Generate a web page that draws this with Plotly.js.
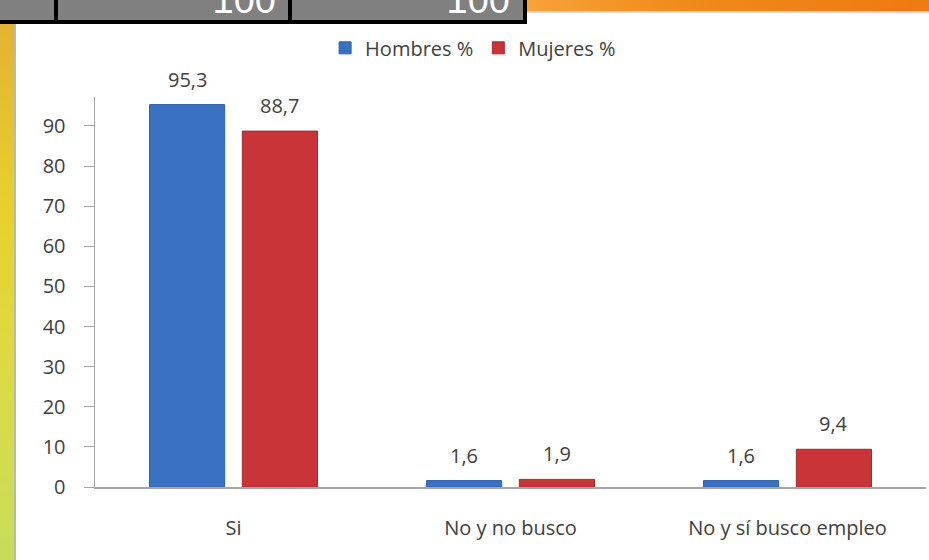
<!DOCTYPE html>
<html><head><meta charset="utf-8">
<script src="https://cdn.plot.ly/plotly-3.0.1.min.js"></script>
<style>
html,body{margin:0;padding:0;background:#fff;overflow:hidden;}
#wrap{position:relative;width:929px;height:560px;}
#chart{position:absolute;left:0;top:0;width:929px;height:560px;}
.deco{position:absolute;pointer-events:none;}
</style></head><body>
<div id="wrap">
<div id="chart"></div>
<div class="deco" style="left:0;top:0;width:527px;height:24px;background:#808080;box-sizing:border-box;border-bottom:4px solid #000;border-right:4px solid #000;overflow:hidden;"></div>
<div class="deco" style="left:54px;top:0;width:4px;height:22px;background:#000;"></div>
<div class="deco" style="left:288px;top:0;width:4px;height:22px;background:#000;"></div>
<div class="deco" style="left:58px;top:0;width:222px;height:20px;overflow:hidden;"><div style="position:absolute;right:4px;top:-19px;font-family:'Liberation Sans',Arial,sans-serif;font-size:38px;color:#fff;line-height:38px;">100</div></div>
<div class="deco" style="left:292px;top:0;width:222px;height:20px;overflow:hidden;"><div style="position:absolute;right:4px;top:-19px;font-family:'Liberation Sans',Arial,sans-serif;font-size:38px;color:#fff;line-height:38px;">100</div></div>
<div class="deco" style="left:527px;top:0;width:402px;height:11px;background:linear-gradient(to right,#f7a23a,#f08a1a 40%,#ee7a10);"></div>
<div class="deco" style="left:527px;top:11px;width:402px;height:2px;background:#d8d8d8;"></div>
<div class="deco" style="left:0;top:24px;width:14px;height:536px;background:linear-gradient(to bottom,#e3b233,#e6d22c 35%,#d9dc48 70%,#c8dc58);"></div>
<div class="deco" style="left:14px;top:24px;width:2px;height:536px;background:#b8b8b8;"></div>
</div>
<script>
const categories = ['Si', 'No y no busco', 'No y sí busco empleo'];
const hombres = [95.3, 1.6, 1.6];
const mujeres = [88.7, 1.9, 9.4];
const seriesNames = ['Hombres %', 'Mujeres %'];
const tickVals = [0,10,20,30,40,50,60,70,80,90];

const font = {family: "'Open Sans', 'Noto Sans', sans-serif", size: 20, color: '#404040'};
const traces = [
  {type:'bar', name: seriesNames[0], x: categories, y: hombres,
   marker:{color:'#3a72c2', line:{color:'#2f60a8', width:1}}},
  {type:'bar', name: seriesNames[1], x: categories, y: mujeres,
   marker:{color:'#c83438', line:{color:'#a8282c', width:1}}}
];
const fmt = v => v.toFixed(1).replace('.', ',');
const annotations = [];
[hombres, mujeres].forEach((arr, s) => {
  arr.forEach((v, i) => {
    annotations.push({x: i + (s === 0 ? -0.1675 : 0.1675), y: v, xref: 'x', yref: 'y',
      text: fmt(v), showarrow: false, yanchor: 'bottom', yshift: 10, font: font});
  });
});
const layout = {
  width: 929, height: 560,
  paper_bgcolor: 'rgba(0,0,0,0)', plot_bgcolor: 'rgba(0,0,0,0)',
  margin: {l: 95, r: 3, t: 97, b: 73},
  separators: ',.',
  font: font,
  barmode: 'group', bargap: 0.33, bargroupgap: 0.19,
  showlegend: true,
  legend: {orientation: 'h', x: 0.455, xanchor: 'center', y: 1.126, yanchor: 'middle',
           font: font, itemwidth: 30, traceorder: 'normal'},
  annotations: annotations,
  xaxis: {showline: true, linecolor: '#a6a6a6', linewidth: 1.5, ticks: '', tickfont: font,
          ticklabelstandoff: 22, showgrid: false, zeroline: false, fixedrange: true},
  yaxis: {range: [0, 97.2], tickvals: tickVals, showline: true, linecolor: '#a6a6a6', linewidth: 1.5,
          ticks: 'outside', ticklen: 10, tickcolor: '#a6a6a6', tickfont: font, showgrid: false,
          zeroline: false, ticklabelstandoff: 14}
};
Plotly.newPlot('chart', traces, layout, {displayModeBar: false, staticPlot: true});
</script>
</body></html>
